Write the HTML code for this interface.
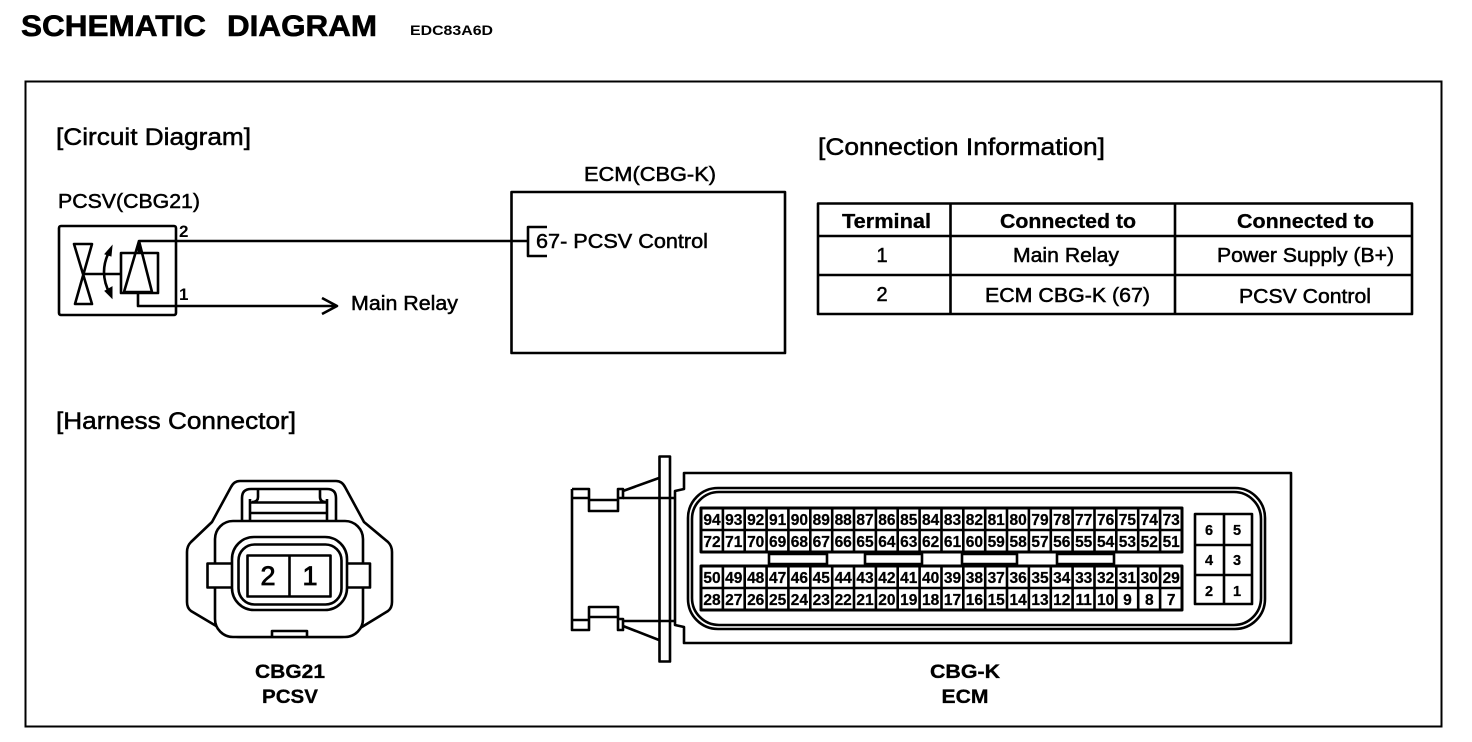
<!DOCTYPE html>
<html><head><meta charset="utf-8"><style>
html,body{margin:0;padding:0;background:#fff;width:1472px;height:742px;overflow:hidden}
svg{display:block}
text{font-family:"Liberation Sans",sans-serif;fill:#000;stroke:#000;stroke-width:.5}
.b{font-weight:bold}
.n text{font-weight:bold;font-size:15.5px;text-anchor:middle;stroke-width:.25}
.s{fill:none;stroke:#000;stroke-width:2.6;stroke-linejoin:round}
.w{fill:#fff;stroke:#000;stroke-width:2.6;stroke-linejoin:round}
.c{text-anchor:middle}
</style></head><body>
<svg width="1472" height="742" viewBox="0 0 1472 742" xmlns="http://www.w3.org/2000/svg">
<text x="21" y="36" class="b" font-size="30" textLength="185" lengthAdjust="spacingAndGlyphs" style="stroke-width:.6">SCHEMATIC</text>
<text x="227" y="36" class="b" font-size="30" textLength="150" lengthAdjust="spacingAndGlyphs" style="stroke-width:.6">DIAGRAM</text>
<text x="410" y="35" font-size="14" class="b" textLength="83" lengthAdjust="spacingAndGlyphs" style="stroke:none">EDC83A6D</text>
<rect x="25.5" y="81.5" width="1416" height="645" fill="none" stroke="#000" stroke-width="2"/>
<text x="56" y="145" font-size="24" textLength="195" lengthAdjust="spacingAndGlyphs">[Circuit Diagram]</text>
<text x="818" y="155" font-size="24" textLength="287" lengthAdjust="spacingAndGlyphs">[Connection Information]</text>
<text x="56" y="429" font-size="24" textLength="240" lengthAdjust="spacingAndGlyphs">[Harness Connector]</text>

<!-- circuit -->
<text x="58" y="208" font-size="20" textLength="142" lengthAdjust="spacingAndGlyphs">PCSV(CBG21)</text>
<rect x="59" y="226" width="117" height="89" rx="2" class="s"/>
<text x="179" y="237" font-size="17" class="b" style="stroke:none">2</text>
<text x="179" y="300" font-size="17" class="b" style="stroke:none">1</text>
<path class="s" d="M528 241H139V253M121 253H158V293H121ZM139 241L124 292H152L139 241M138 293V306H336M322 298L337 306L322 314"/>
<path class="s" d="M74 244H92L75 304H92ZM83 274H121M110 250Q98 272 110 294"/>
<path d="M105 254L112 246L111 256ZM105 291L112 298L112 287Z" fill="#000" stroke="#000"/>
<text x="351" y="310" font-size="20" textLength="107" lengthAdjust="spacingAndGlyphs">Main Relay</text>

<!-- ECM box -->
<text x="584" y="181" font-size="20" textLength="132" lengthAdjust="spacingAndGlyphs">ECM(CBG-K)</text>
<rect x="511.5" y="192" width="273.5" height="161" class="s"/>
<path class="s" d="M547 227H528V256H547"/>
<text x="536" y="248" font-size="20" textLength="172" lengthAdjust="spacingAndGlyphs">67- PCSV Control</text>

<!-- table -->
<rect x="818" y="203.5" width="594" height="110.5" class="s"/>
<path class="s" d="M818 236H1412M818 275H1412M950.500 203V314M1175 203V314"/>
<text x="842" y="228" font-size="20" class="b" textLength="89" lengthAdjust="spacingAndGlyphs" style="stroke-width:.3">Terminal</text>
<text x="1000" y="228" font-size="20" class="b" textLength="136" lengthAdjust="spacingAndGlyphs" style="stroke-width:.3">Connected to</text>
<text x="1237" y="228" font-size="20" class="b" textLength="137" lengthAdjust="spacingAndGlyphs" style="stroke-width:.3">Connected to</text>
<text x="882" y="262" font-size="20" class="c">1</text>
<text x="1013" y="262" font-size="20" textLength="106" lengthAdjust="spacingAndGlyphs">Main Relay</text>
<text x="1217" y="262" font-size="20" textLength="177" lengthAdjust="spacingAndGlyphs">Power Supply (B+)</text>
<text x="882" y="301" font-size="20" class="c">2</text>
<text x="985" y="302" font-size="20" textLength="165" lengthAdjust="spacingAndGlyphs">ECM CBG-K (67)</text>
<text x="1239" y="303" font-size="20" textLength="132" lengthAdjust="spacingAndGlyphs">PCSV Control</text>

<!-- PCSV connector -->
<path class="s" d="M240 481H336Q342 481 345 487L364 522L388 542Q392 546 392 552V602Q392 608 388 611L352 633Q347 637 340 637H240Q233 637 228 633L191 611Q187 608 187 602V552Q187 546 191 542L212 522L231 487Q234 481 240 481Z"/>
<path class="s" d="M242 521V498Q242 489 251 489H327Q336 489 336 498V521M250 521V499M327 521V499M258 490V497Q258 502 252 502M320 490V497Q320 502 326 502M250 502.500H327M250 513H327"/>
<rect x="215" y="521" width="148" height="116" rx="18" class="w"/>
<path class="s" d="M272 637V631H307V637"/>
<rect x="207.500" y="563.500" width="25" height="24" class="w"/>
<rect x="346" y="563.500" width="24" height="24" class="w"/>
<rect x="232" y="537" width="115" height="73" rx="22" class="w"/>
<rect x="238.500" y="544.500" width="103" height="60" rx="16" class="w"/>
<rect x="247.500" y="555.500" width="83" height="41" class="w"/>
<path class="s" d="M289.500 555V596"/>
<text x="268" y="585" font-size="27" class="c" style="stroke-width:.8">2</text>
<text x="310" y="585" font-size="27" class="c" style="stroke-width:.8">1</text>
<text x="290" y="678" font-size="19" class="c b" textLength="70" lengthAdjust="spacingAndGlyphs" style="stroke-width:.3">CBG21</text>
<text x="290" y="703" font-size="19" class="c b" textLength="56" lengthAdjust="spacingAndGlyphs" style="stroke-width:.3">PCSV</text>

<!-- ECM connector -->
<path class="s" d="M684 473H1291V643H684V627L675 625V491L684 489Z"/>
<rect x="688" y="488" width="577" height="141" rx="30" class="s"/>
<rect x="692" y="492" width="569" height="133" rx="27" class="s"/>
<rect x="659.500" y="456.500" width="10.500" height="205" class="w"/>
<path class="s" d="M659 498H675M659 621H675"/>
<path class="s" d="M659 478L623 491M623 498H659M659 640L623 626M623 621H659"/>
<path class="s" d="M572 489H589V511H618V489H623V498H618M572 498H589M589 500H618M572 489V630H589V607H618V630H623V619H618M572 620H589M589 617H618"/>

<rect x="701" y="508" width="481" height="44" class="w" style="stroke-width:3"/>
<rect x="701" y="566" width="481" height="44" class="w" style="stroke-width:3"/>
<path d="M701 530H1182M701 588H1182M722.900 508V552M744.700 508V552M766.600 508V552M788.400 508V552M810.300 508V552M832.200 508V552M854 508V552M875.900 508V552M897.700 508V552M919.600 508V552M941.500 508V552M963.300 508V552M985.200 508V552M1007 508V552M1028.900 508V552M1050.800 508V552M1072.600 508V552M1094.500 508V552M1116.300 508V552M1138.200 508V552M1160.100 508V552M722.900 566V610M744.700 566V610M766.600 566V610M788.400 566V610M810.300 566V610M832.200 566V610M854 566V610M875.900 566V610M897.700 566V610M919.600 566V610M941.500 566V610M963.300 566V610M985.200 566V610M1007 566V610M1028.900 566V610M1050.800 566V610M1072.600 566V610M1094.500 566V610M1116.300 566V610M1138.200 566V610M1160.100 566V610" stroke="#000" stroke-width="2.600" fill="none"/>
<rect x="769" y="554" width="58" height="10" class="w"/>
<rect x="865" y="554" width="57" height="10" class="w"/>
<rect x="962" y="554" width="55" height="10" class="w"/>
<rect x="1057" y="554" width="57" height="10" class="w"/>

<g class="n">
<text x="712" y="525">94</text><text x="733.800" y="525">93</text><text x="755.700" y="525">92</text><text x="777.600" y="525">91</text><text x="799.400" y="525">90</text><text x="821.300" y="525">89</text><text x="843.200" y="525">88</text><text x="865" y="525">87</text><text x="886.900" y="525">86</text><text x="908.800" y="525">85</text><text x="930.600" y="525">84</text><text x="952.500" y="525">83</text><text x="974.400" y="525">82</text><text x="996.200" y="525">81</text><text x="1018.100" y="525">80</text><text x="1040" y="525">79</text><text x="1061.800" y="525">78</text><text x="1083.700" y="525">77</text><text x="1105.600" y="525">76</text><text x="1127.400" y="525">75</text><text x="1149.300" y="525">74</text><text x="1171.200" y="525">73</text>
<text x="712" y="547">72</text><text x="733.800" y="547">71</text><text x="755.700" y="547">70</text><text x="777.600" y="547">69</text><text x="799.400" y="547">68</text><text x="821.300" y="547">67</text><text x="843.200" y="547">66</text><text x="865" y="547">65</text><text x="886.900" y="547">64</text><text x="908.800" y="547">63</text><text x="930.600" y="547">62</text><text x="952.500" y="547">61</text><text x="974.400" y="547">60</text><text x="996.200" y="547">59</text><text x="1018.100" y="547">58</text><text x="1040" y="547">57</text><text x="1061.800" y="547">56</text><text x="1083.700" y="547">55</text><text x="1105.600" y="547">54</text><text x="1127.400" y="547">53</text><text x="1149.300" y="547">52</text><text x="1171.200" y="547">51</text>
<text x="712" y="583">50</text><text x="733.800" y="583">49</text><text x="755.700" y="583">48</text><text x="777.600" y="583">47</text><text x="799.400" y="583">46</text><text x="821.300" y="583">45</text><text x="843.200" y="583">44</text><text x="865" y="583">43</text><text x="886.900" y="583">42</text><text x="908.800" y="583">41</text><text x="930.600" y="583">40</text><text x="952.500" y="583">39</text><text x="974.400" y="583">38</text><text x="996.200" y="583">37</text><text x="1018.100" y="583">36</text><text x="1040" y="583">35</text><text x="1061.800" y="583">34</text><text x="1083.700" y="583">33</text><text x="1105.600" y="583">32</text><text x="1127.400" y="583">31</text><text x="1149.300" y="583">30</text><text x="1171.200" y="583">29</text>
<text x="712" y="605">28</text><text x="733.800" y="605">27</text><text x="755.700" y="605">26</text><text x="777.600" y="605">25</text><text x="799.400" y="605">24</text><text x="821.300" y="605">23</text><text x="843.200" y="605">22</text><text x="865" y="605">21</text><text x="886.900" y="605">20</text><text x="908.800" y="605">19</text><text x="930.600" y="605">18</text><text x="952.500" y="605">17</text><text x="974.400" y="605">16</text><text x="996.200" y="605">15</text><text x="1018.100" y="605">14</text><text x="1040" y="605">13</text><text x="1061.800" y="605">12</text><text x="1083.700" y="605">11</text><text x="1105.600" y="605">10</text><text x="1127.400" y="605">9</text><text x="1149.300" y="605">8</text><text x="1171.200" y="605">7</text>
</g>

<rect x="1195" y="514" width="57" height="90" class="w"/>
<path class="s" d="M1224 514V604M1195 545H1252M1195 575H1252"/>
<g class="n">
<text x="1209" y="535" style="font-size:14.500px">6</text><text x="1237" y="535" style="font-size:14.500px">5</text>
<text x="1209" y="565" style="font-size:14.500px">4</text><text x="1237" y="565" style="font-size:14.500px">3</text>
<text x="1209" y="596" style="font-size:14.500px">2</text><text x="1237" y="596" style="font-size:14.500px">1</text>
</g>
<text x="965" y="678" font-size="19" class="c b" textLength="70" lengthAdjust="spacingAndGlyphs" style="stroke-width:.3">CBG-K</text>
<text x="965" y="703" font-size="19" class="c b" textLength="47" lengthAdjust="spacingAndGlyphs" style="stroke-width:.3">ECM</text>
</svg>
</body></html>
